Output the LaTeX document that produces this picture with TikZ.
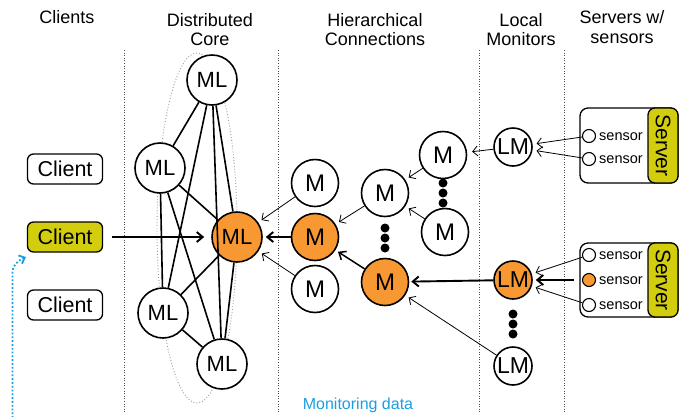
\documentclass[tikz,border=0pt]{standalone}
\usepackage{fontspec}
\setmainfont{Liberation Sans}
\usetikzlibrary{arrows.meta}
\definecolor{orng}{RGB}{248,152,50}
\definecolor{ylw}{RGB}{210,206,14}
\definecolor{blu}{RGB}{28,158,222}
\begin{document}
\begin{tikzpicture}[x=1pt,y=-1pt,
  every node/.style={inner sep=0pt},
  hd/.style={font=\fontsize{18}{20}\selectfont, anchor=base},
  client/.style={draw, line width=1.3pt, rounded corners=6pt, minimum width=75pt, minimum height=30pt, fill=white, font=\fontsize{21.5}{22}\selectfont},
  ml/.style={circle, draw, line width=1.6pt, minimum size=50pt, fill=white, font=\fontsize{22}{22}\selectfont},
  mm/.style={circle, draw, line width=1.6pt, minimum size=47pt, fill=white, font=\fontsize{24}{24}\selectfont},
  lm/.style={circle, draw, line width=1.6pt, minimum size=38pt, fill=white, font=\fontsize{23}{23}\selectfont},
  dotn/.style={circle, fill=black, minimum size=9pt},
  srvbox/.style={draw, line width=1.3pt, rounded corners=8pt, minimum width=98pt, fill=white},
  srvtag/.style={draw, line width=1.3pt, fill=ylw, rounded corners=7pt, rotate=-90, minimum height=30pt, font=\fontsize{21}{21}\selectfont},
  sens/.style={circle, draw, line width=1.1pt, minimum size=13pt, fill=white},
  stext/.style={anchor=west, font=\fontsize{14.5}{15}\selectfont},
  kedge/.style={line width=1.6pt},
  tarr/.style={line width=0.8pt, -{Straight Barb[length=5pt,width=10pt]}, shorten >=4pt},
  marr/.style={line width=1.5pt, -{Straight Barb[length=6pt,width=10pt]}, shorten >=3pt},
  karr/.style={line width=1.9pt, -{Straight Barb[length=6pt,width=10pt]}, shorten >=3pt},
  divider/.style={draw=black!70, line width=0.6pt, dotted}
]
\useasboundingbox (0,0) rectangle (682,416);

% headings
\node[hd] (h1) at (67,23) {Clients};
\node[hd] (h2a) at (210,26) {Distributed};
\node[hd] (h2b) at (210,45) {Core};
\node[hd] (h3a) at (375,26) {Hierarchical};
\node[hd] (h3b) at (375,45) {Connections};
\node[hd] (h4a) at (521,26) {Local};
\node[hd] (h4b) at (521,45) {Monitors};
\node[hd] (h5a) at (622,23) {Servers w/};
\node[hd] (h5b) at (622,43) {sensors};

% dividers
\foreach \x in {124,278,479,564} \draw[divider] (\x,50) -- (\x,413);

% core ellipse
\draw[black!40, dotted, line width=0.9pt] (197,228) ellipse [x radius=40, y radius=175];

% clients
\node[client] (c1) at (65,169) {Client};
\node[client, fill=ylw] (c2) at (65,237) {Client};
\node[client] (c3) at (65,305) {Client};

% core
\node[ml] (mlt) at (212,80) {ML};
\node[ml] (mll) at (160,168) {ML};
\node[ml, fill=orng] (mlo) at (237,237) {ML};
\node[ml] (mlbl) at (163,313) {ML};
\node[ml] (mlb) at (222,364) {ML};

% hierarchical
\node[mm] (m1) at (315,183) {M};
\node[mm, fill=orng] (mo) at (315,237) {M};
\node[mm] (m2) at (315,289) {M};
\node[mm] (mmid) at (385,193) {M};
\node[mm, fill=orng] (mbig) at (385,282) {M};
\node[mm] (mtr) at (443,155) {M};
\node[mm] (mrl) at (445,232) {M};
\node[dotn] (d1) at (385,228) {};
\node[dotn] (d2) at (385,238) {};
\node[dotn] (d3) at (385,248) {};
\node[dotn] (d4) at (443,183) {};
\node[dotn] (d5) at (443,193) {};
\node[dotn] (d6) at (443,203) {};

% local monitors
\node[lm] (lmt) at (513,147) {LM};
\node[lm, fill=orng] (lmo) at (513,280) {LM};
\node[lm] (lmb) at (513,366) {LM};
\node[dotn] (d7) at (513,314) {};
\node[dotn] (d8) at (513,324) {};
\node[dotn] (d9) at (513,334) {};

% servers
\node[srvbox, minimum height=75pt] (sv1) at (629,145.5) {};
\node[srvtag, minimum width=75pt] (tag1) at (663,145.5) {Server};
\node[sens] (s1) at (589,136) {};
\node[sens] (s2) at (589,159) {};
\node[stext] (t1) at (599,137) {sensor};
\node[stext] (t2) at (599,160) {sensor};

\node[srvbox, minimum height=74pt] (sv2) at (629,280) {};
\node[srvtag, minimum width=74pt] (tag2) at (663,280) {Server};
\node[sens] (s3) at (589,255) {};
\node[sens, fill=orng] (s4) at (589,280) {};
\node[sens] (s5) at (589,305) {};
\node[stext] (t3) at (599,256) {sensor};
\node[stext] (t4) at (599,281) {sensor};
\node[stext] (t5) at (599,306) {sensor};

% core mesh
\foreach \a/\b in {mlt/mll, mlt/mlo, mlt/mlbl, mlt/mlb, mll/mlo, mll/mlbl, mll/mlb, mlo/mlbl, mlo/mlb, mlbl/mlb}
  \draw[kedge] (\a) -- (\b);

% arrows
\draw[karr, shorten <=9pt, shorten >=7pt] (c2) -- (mlo);
\draw[tarr] (m1) -- (mlo);
\draw[karr] (mo) -- (mlo);
\draw[tarr] (m2) -- (mlo);
\draw[tarr] (mmid) -- (mo);
\draw[marr] (mbig) -- (mo);
\draw[tarr] (mtr) -- (mmid);
\draw[tarr] (mrl) -- (mmid);
\draw[tarr, shorten >=5pt] (lmt) -- (mtr);
\draw[karr, shorten >=2pt] (lmo) -- (mbig);
\draw[tarr] (lmb) -- (mbig);
\draw[tarr] (s1) -- (lmt);
\draw[tarr] (s2) -- (lmt);
\draw[tarr] (s3) -- (lmo);
\draw[karr, shorten <=8pt] (s4) -- (lmo);
\draw[tarr] (s5) -- (lmo);

% monitoring data
\coordinate (bl0) at (12.5,418);
\coordinate (bl1) at (26,257);
\draw[blu, line width=1.8pt, dotted, -{Straight Barb[length=5pt,width=9pt]}]
  (bl0) -- (12.5,272) .. controls (12.5,266) and (17,261) .. (bl1);
\node[blu, anchor=base, font=\fontsize{16}{16}\selectfont] (mon) at (358,409) {Monitoring data};
\end{tikzpicture}
\end{document}
